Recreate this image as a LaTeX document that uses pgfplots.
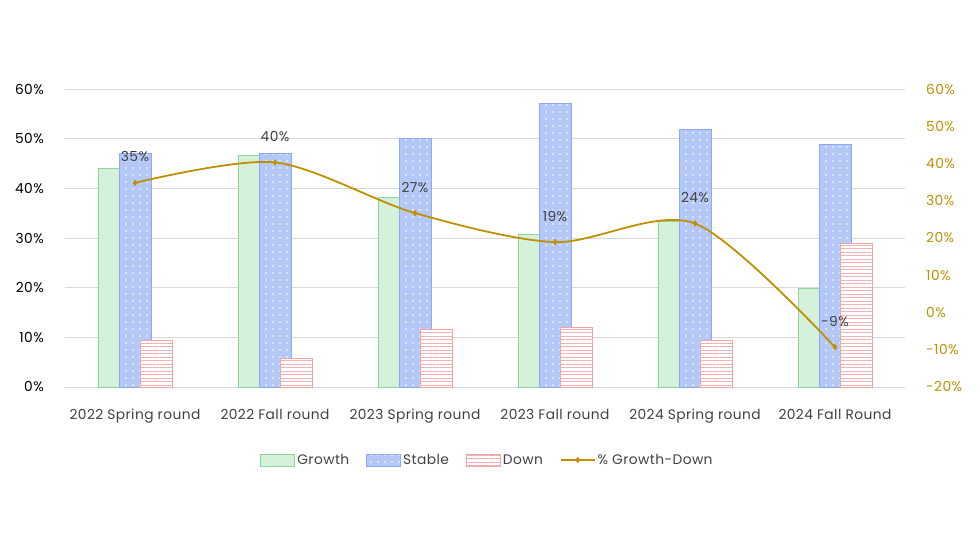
\documentclass[border=0pt]{standalone}
\usepackage{pgfplots}
\pgfplotsset{compat=1.18}
\usetikzlibrary{patterns.meta}
\usepackage{fontspec}
\setmainfont{Poppins}[LetterSpace=3]
\definecolor{gfill}{HTML}{D6F1DA}
\definecolor{gdraw}{HTML}{8DD69C}
\definecolor{bfill}{HTML}{B3C8F7}
\definecolor{bdraw}{HTML}{8FAAF0}
\definecolor{rline}{HTML}{F4AFAF}
\definecolor{rdraw}{HTML}{F2A3A3}
\definecolor{gold}{HTML}{BF9000}
\definecolor{gridc}{HTML}{D9D9D9}
\definecolor{txt}{HTML}{404040}
\definecolor{tick}{HTML}{595959}
\newcommand{\tf}{\fontsize{13.8bp}{16bp}\selectfont}
\pgfplotsset{
  barleg/.style={legend image code/.code={\draw[##1,/tikz/.cd] (0bp,-6bp) rectangle (34bp,6bp);}},
  goldleg/.style={legend image code/.code={\draw[mark repeat=2,mark phase=2,##1] plot coordinates {(0bp,0bp)(17bp,0bp)(34bp,0bp)};}},
}
\begin{document}
\begin{tikzpicture}
\useasboundingbox (0,0) rectangle (980bp,560bp);
\begin{axis}[
  at={(65bp,173bp)}, anchor=south west,
  scale only axis, width=840bp, height=298bp,
  xmin=-0.5, xmax=5.5, ymin=0, ymax=60,
  axis line style={draw=none}, major tick length=0pt,
  ymajorgrids, grid style={gridc, line width=0.9bp},
  xtick={0,1,2,3,4,5},
  xticklabels={2022 Spring round,2022 Fall round,2023 Spring round,2023 Fall round,2024 Spring round,2024 Fall Round},
  ytick={0,10,20,30,40,50,60},
  yticklabels={0\%,10\%,20\%,30\%,40\%,50\%,60\%},
  tick label style={font=\tf},
  xticklabel style={txt, anchor=north, inner sep=0pt, yshift=-22bp},
  yticklabel style={tick, anchor=east, inner sep=0pt, xshift=-21bp},
  clip=false,
  legend columns=4,
  legend style={at={(0.503,-0.245)}, anchor=center, draw=none, fill=none, font=\tf, text=txt,
    /tikz/every even column/.append style={column sep=15bp}},
]
\addplot[ybar, bar width=32bp, bar shift=-21bp, fill=gfill, draw=gdraw, line width=0.9bp, barleg]
  coordinates {(0,44.1)(1,46.6)(2,38.2)(3,30.8)(4,33.4)(5,19.9)};
\addlegendentry{Growth}
\addplot[ybar, bar width=32bp, bar shift=0bp, fill=bfill, draw=bdraw, line width=0.9bp, barleg,
  postaction={pattern={Dots[distance=7bp, radius=0.8bp]}, pattern color=white}]
  coordinates {(0,47.1)(1,47.0)(2,50.1)(3,57.1)(4,51.9)(5,48.9)};
\addlegendentry{Stable}
\addplot[ybar, bar width=32bp, bar shift=21bp, fill=white, draw=rdraw, line width=0.9bp, barleg,
  postaction={pattern={Lines[angle=0, distance=3.5bp, line width=0.8bp]}, pattern color=rline}]
  coordinates {(0,9.3)(1,5.8)(2,11.5)(3,11.9)(4,9.3)(5,29.0)};
\addlegendentry{Down}
\addlegendimage{gold, line width=1.8bp, mark=diamond*, mark size=2.8bp, mark options={solid, line width=0.4bp}, goldleg}
\addlegendentry{\% Growth-Down}
\end{axis}
\begin{axis}[
  at={(65bp,173bp)}, anchor=south west,
  scale only axis, width=840bp, height=298bp,
  xmin=-0.5, xmax=5.5, ymin=-20, ymax=60,
  axis x line=none, axis y line*=right,
  axis line style={draw=none}, major tick length=0pt,
  ytick={-20,-10,0,10,20,30,40,50,60},
  yticklabels={-20\%,-10\%,0\%,10\%,20\%,30\%,40\%,50\%,60\%},
  tick label style={font=\tf},
  yticklabel style={gold, anchor=west, inner sep=0pt, xshift=21bp},
  clip=false,
]
\addplot[gold, line width=1.8bp, smooth, mark=diamond*, mark size=2.8bp, mark options={solid, line width=0.4bp},
  point meta=explicit,
  nodes near coords={\pgfmathprintnumber[assume math mode=true,fixed,precision=0]{\pgfplotspointmeta}\%},
  every node near coord/.append style={txt, font=\tf, anchor=center, yshift=26bp}]
  table[meta=m] {
x y m
0 34.8 35
1 40.3 40
2 26.7 27
3 18.9 19
4 23.9 24
5 -9.3 -9
};
\end{axis}
\end{tikzpicture}
\end{document}
